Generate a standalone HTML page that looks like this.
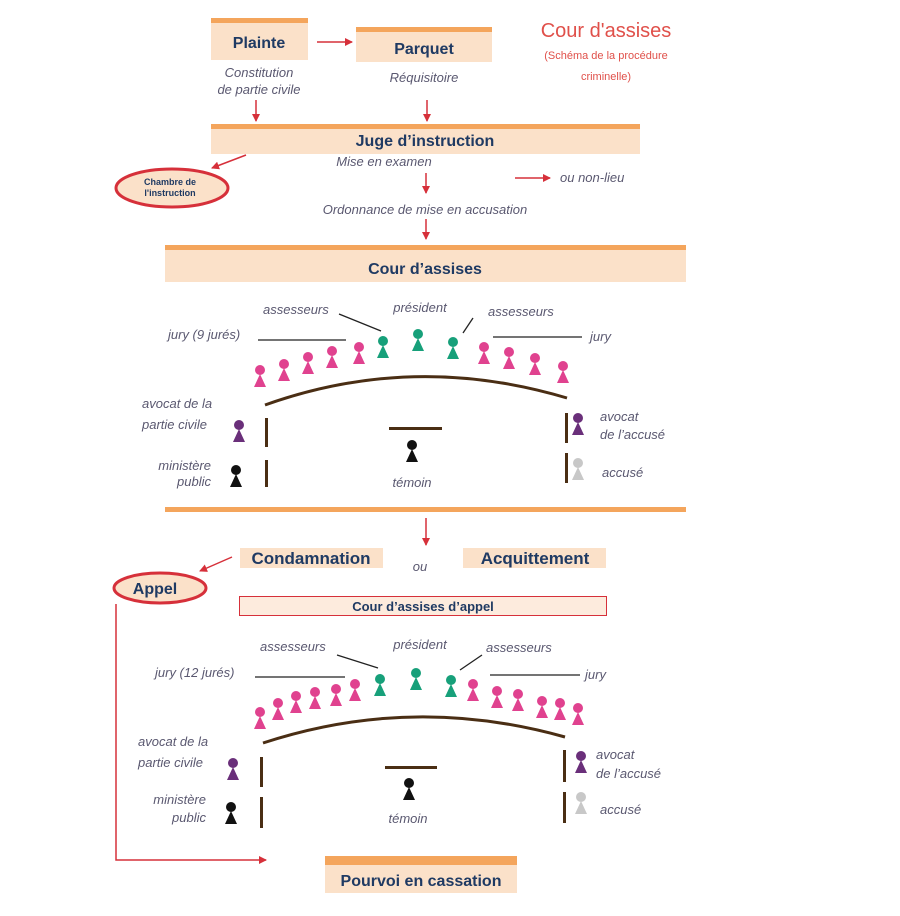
<!DOCTYPE html>
<html><head><meta charset="utf-8"><style>
html,body{margin:0;padding:0;background:#fff;}
svg{display:block;}
.b{font-family:"Liberation Sans",sans-serif;font-weight:bold;fill:#1f3a63;}
.i{font-family:"Liberation Sans",sans-serif;font-style:italic;fill:#5a5870;font-size:13px;}
</style></head><body>
<svg width="900" height="916" viewBox="0 0 900 916" xmlns="http://www.w3.org/2000/svg">
<defs>
<g id="p"><circle cx="0" cy="0" r="5"/><path d="M0 4 L-6 17 L6 17Z"/></g>
<marker id="a" markerWidth="8" markerHeight="8" refX="7" refY="4" orient="auto" markerUnits="userSpaceOnUse"><path d="M0 0 L8 4 L0 8Z" fill="#d6303a"/></marker>
</defs>
<g stroke="#d6303a" stroke-width="1.5" fill="none" marker-end="url(#a)">
<line x1="317" y1="42" x2="352" y2="42"/>
<line x1="256" y1="100" x2="256" y2="121"/>
<line x1="427" y1="100" x2="427" y2="121"/>
<line x1="246" y1="155" x2="212" y2="168"/>
<line x1="426" y1="173" x2="426" y2="193"/>
<line x1="426" y1="219" x2="426" y2="239"/>
<line x1="515" y1="178" x2="550" y2="178"/>
<line x1="426" y1="518" x2="426" y2="545"/>
<line x1="232" y1="557" x2="200" y2="571"/>
<polyline points="116,604 116,860 266,860"/>
</g>
<!-- boxes -->
<rect x="211" y="18" width="97" height="42" fill="#fbe1c9"/><rect x="211" y="18" width="97" height="5" fill="#f4a55c"/>
<rect x="356" y="27" width="136" height="35" fill="#fbe1c9"/><rect x="356" y="27" width="136" height="5" fill="#f4a55c"/>
<rect x="211" y="124" width="429" height="30" fill="#fbe1c9"/><rect x="211" y="124" width="429" height="5" fill="#f4a55c"/>
<rect x="165" y="245" width="521" height="37" fill="#fbe1c9"/><rect x="165" y="245" width="521" height="5" fill="#f4a55c"/>
<rect x="165" y="507" width="521" height="5" fill="#f4a55c"/>
<rect x="240" y="548" width="143" height="20" fill="#fbe1c9"/>
<rect x="463" y="548" width="143" height="20" fill="#fbe1c9"/>
<rect x="239.5" y="596.5" width="367" height="19" fill="#fdebdd" stroke="#d6303a" stroke-width="1"/>
<rect x="325" y="856" width="192" height="37" fill="#fbe1c9"/><rect x="325" y="856" width="192" height="9" fill="#f4a55c"/>
<ellipse cx="172" cy="188" rx="56" ry="19" fill="#fbe1c9" stroke="#d6303a" stroke-width="3"/>
<ellipse cx="160" cy="588" rx="46" ry="15" fill="#fbe1c9" stroke="#d6303a" stroke-width="3"/>
<!-- text -->
<text class="b" x="259" y="48" font-size="16" text-anchor="middle">Plainte</text>
<text class="b" x="424" y="54" font-size="16" text-anchor="middle">Parquet</text>
<text x="606" y="37" font-family="Liberation Sans,sans-serif" font-size="20" fill="#e0504a" text-anchor="middle">Cour d'assises</text>
<text x="606" y="59" font-family="Liberation Sans,sans-serif" font-size="11" fill="#e0504a" text-anchor="middle">(Schéma de la procédure</text>
<text x="606" y="80" font-family="Liberation Sans,sans-serif" font-size="11" fill="#e0504a" text-anchor="middle">criminelle)</text>
<text class="i" x="259" y="77" text-anchor="middle">Constitution</text>
<text class="i" x="259" y="94" text-anchor="middle">de partie civile</text>
<text class="i" x="424" y="82" text-anchor="middle">Réquisitoire</text>
<text class="b" x="425" y="146" font-size="16" text-anchor="middle">Juge d’instruction</text>
<text class="i" x="384" y="166" text-anchor="middle">Mise en examen</text>
<text class="i" x="560" y="182">ou non-lieu</text>
<text class="i" x="425" y="214" text-anchor="middle">Ordonnance de mise en accusation</text>
<text class="b" x="170" y="185" font-size="9" text-anchor="middle">Chambre de</text>
<text class="b" x="170" y="196" font-size="9" text-anchor="middle">l'instruction</text>
<text class="b" x="425" y="274" font-size="16" text-anchor="middle">Cour d’assises</text>
<text class="b" x="311" y="564" font-size="17" text-anchor="middle">Condamnation</text>
<text class="b" x="535" y="564" font-size="17" text-anchor="middle">Acquittement</text>
<text class="i" x="420" y="571" font-size="11" text-anchor="middle">ou</text>
<text class="b" x="155" y="594" font-size="16" text-anchor="middle">Appel</text>
<text class="b" x="423" y="611" font-size="13" text-anchor="middle">Cour d’assises d’appel</text>
<text class="b" x="421" y="886" font-size="16" text-anchor="middle">Pourvoi en cassation</text>

<!-- court 1 -->
<g class="i" font-size="12">
<text x="263" y="314">assesseurs</text><text x="420" y="312" text-anchor="middle">président</text><text x="488" y="316">assesseurs</text>
<text x="168" y="339">jury (9 jurés)</text><text x="590" y="341">jury</text>
<text x="142" y="408">avocat de la</text><text x="142" y="429">partie civile</text>
<text x="211" y="470" text-anchor="end">ministère</text><text x="211" y="486" text-anchor="end">public</text>
<text x="412" y="487" text-anchor="middle">témoin</text>
<text x="600" y="421">avocat</text><text x="600" y="439">de l’accusé</text><text x="602" y="477">accusé</text>
</g>
<g stroke="#222" stroke-width="1.3">
<line x1="258" y1="340" x2="346" y2="340"/><line x1="493" y1="337" x2="582" y2="337"/>
<line x1="339" y1="314" x2="381" y2="331"/><line x1="473" y1="318" x2="463" y2="333"/>
</g>
<path d="M265 405 Q413 352 567 398" stroke="#4a2e14" stroke-width="3" fill="none"/>
<g fill="#4a2e14"><rect x="265" y="418" width="3" height="29"/><rect x="265" y="460" width="3" height="27"/><rect x="565" y="413" width="3" height="30"/><rect x="565" y="453" width="3" height="30"/><rect x="389" y="427" width="53" height="3"/></g>
<g fill="#e0428f"><use href="#p" x="260" y="370"/><use href="#p" x="284" y="364"/><use href="#p" x="308" y="357"/><use href="#p" x="332" y="351"/><use href="#p" x="359" y="347"/><use href="#p" x="484" y="347"/><use href="#p" x="509" y="352"/><use href="#p" x="535" y="358"/><use href="#p" x="563" y="366"/></g>
<g fill="#17a07a"><use href="#p" x="383" y="341"/><use href="#p" x="418" y="334"/><use href="#p" x="453" y="342"/></g>
<g fill="#6a2f7a"><use href="#p" x="239" y="425"/><use href="#p" x="578" y="418"/></g>
<g fill="#111"><use href="#p" x="236" y="470"/><use href="#p" x="412" y="445"/></g>
<g fill="#c8c8c8"><use href="#p" x="578" y="463"/></g>

<!-- court 2 -->
<g class="i" font-size="12">
<text x="260" y="651">assesseurs</text><text x="420" y="649" text-anchor="middle">président</text><text x="486" y="652">assesseurs</text>
<text x="155" y="677">jury (12 jurés)</text><text x="585" y="679">jury</text>
<text x="138" y="746">avocat de la</text><text x="138" y="767">partie civile</text>
<text x="206" y="804" text-anchor="end">ministère</text><text x="206" y="822" text-anchor="end">public</text>
<text x="408" y="823" text-anchor="middle">témoin</text>
<text x="596" y="759">avocat</text><text x="596" y="778">de l’accusé</text><text x="600" y="814">accusé</text>
</g>
<g stroke="#222" stroke-width="1.3">
<line x1="255" y1="677" x2="345" y2="677"/><line x1="490" y1="675" x2="580" y2="675"/>
<line x1="337" y1="655" x2="378" y2="668"/><line x1="482" y1="655" x2="460" y2="670"/>
</g>
<path d="M263 743 Q412 694 565 737" stroke="#4a2e14" stroke-width="3" fill="none"/>
<g fill="#4a2e14"><rect x="260" y="757" width="3" height="30"/><rect x="260" y="797" width="3" height="31"/><rect x="563" y="750" width="3" height="32"/><rect x="563" y="792" width="3" height="31"/><rect x="385" y="766" width="52" height="3"/></g>
<g fill="#e0428f"><use href="#p" x="260" y="712"/><use href="#p" x="278" y="703"/><use href="#p" x="296" y="696"/><use href="#p" x="315" y="692"/><use href="#p" x="336" y="689"/><use href="#p" x="355" y="684"/><use href="#p" x="473" y="684"/><use href="#p" x="497" y="691"/><use href="#p" x="518" y="694"/><use href="#p" x="542" y="701"/><use href="#p" x="560" y="703"/><use href="#p" x="578" y="708"/></g>
<g fill="#17a07a"><use href="#p" x="380" y="679"/><use href="#p" x="416" y="673"/><use href="#p" x="451" y="680"/></g>
<g fill="#6a2f7a"><use href="#p" x="233" y="763"/><use href="#p" x="581" y="756"/></g>
<g fill="#111"><use href="#p" x="231" y="807"/><use href="#p" x="409" y="783"/></g>
<g fill="#c8c8c8"><use href="#p" x="581" y="797"/></g>
</svg>
</body></html>
